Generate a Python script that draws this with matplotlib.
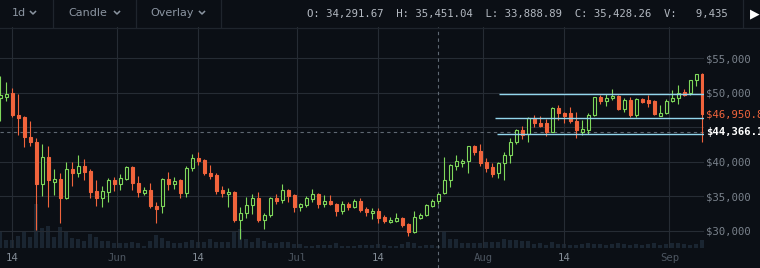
import matplotlib.pyplot as plt
import matplotlib.transforms as mtransforms
import numpy as np
import pandas as pd
from matplotlib.lines import Line2D

BG = "#0b0f15"
GRID = "#262c34"
UP = "#7fd85b"
DOWN = "#f1643c"
VOL = "#1a2531"
LEVEL = "#93d6ec"
W, H = 760, 268

dates = pd.date_range("2021-05-12", periods=118, freq="D")

opens = [
    49300, 49400, 50000, 46800, 46500, 43600, 42900, 36800, 40700, 37100,
    37500, 34800, 39000, 38400, 39400, 38700, 35800, 34800, 35700, 37400,
    36800, 37500, 39300, 37000, 35500, 35900, 33600, 33600, 37500, 36800,
    37400, 35500, 39100, 40600, 40300, 38400, 38100, 35900, 35400, 35700,
    31600, 32600, 33800, 34800, 31600, 32300, 34800, 34500, 35900, 35200,
    33500, 33800, 34600, 35400, 33900, 34300, 33900, 32900, 33900, 33500,
    34300, 33200, 32600, 32900, 32000, 31300, 31400, 31900, 31000, 29900,
    31900, 32300, 33600, 34291.67, 35500, 37400, 39400, 39900, 40100, 42300,
    41600, 40000, 39300, 38400, 39900, 41000, 42900, 44600, 44100, 46400,
    45700, 45700, 44400, 47800, 47100, 47100, 45900, 44300, 44600, 46800,
    49400, 48800, 49300, 49600, 47700, 49000, 46800, 49100, 49000, 48800,
    46700, 47100, 48800, 49300, 50100, 50000, 51900, 52800,
]
highs = [
    52500, 51600, 50700, 49900, 46700, 45900, 43500, 42600, 42300, 39000,
    38400, 40000, 40000, 41000, 40400, 39000, 37400, 36500, 37700, 37800,
    38300, 39400, 39400, 38000, 36400, 37000, 34200, 37700, 38600, 37800,
    37500, 39400, 41200, 41400, 40400, 39600, 38400, 36500, 36200, 35800,
    33500, 34900, 35400, 35700, 32600, 34900, 35400, 36800, 36100, 35400,
    34100, 35100, 36100, 35500, 35200, 35200, 34100, 34300, 34200, 34600,
    34800, 33500, 33300, 33300, 32300, 32000, 32600, 32000, 31200, 32900,
    32600, 33900, 34600, 35451.04, 40700, 39700, 41000, 40400, 42300, 42500,
    42600, 40600, 39900, 40000, 41400, 43500, 44800, 45200, 46500, 46800,
    46700, 46200, 47900, 48300, 47200, 48000, 47200, 46100, 47100, 49400,
    49700, 49900, 50600, 49700, 49300, 49400, 49300, 49300, 49700, 49000,
    48300, 49100, 50400, 51200, 50600, 51900, 52800, 52900,
]
lows = [
    45900, 48800, 46500, 43900, 42200, 42300, 30100, 35100, 33500, 35200,
    31200, 34600, 36500, 37800, 37400, 34800, 33600, 33500, 34200, 35800,
    35900, 37400, 35900, 34900, 35200, 33300, 31200, 32600, 35900, 36100,
    34800, 34900, 38700, 39600, 38100, 37500, 35400, 34900, 33500, 31300,
    28800, 31900, 32500, 31300, 30300, 32000, 33900, 34100, 34200, 32800,
    32900, 33500, 34200, 33300, 33500, 33800, 32200, 32500, 33000, 33300,
    32800, 32200, 31700, 31200, 31200, 31200, 31300, 30600, 29300, 29700,
    31700, 32200, 33500, 33888.89, 35400, 36400, 38800, 39300, 38400, 41000,
    39400, 38600, 37800, 37700, 37400, 39900, 42600, 43300, 42900, 45100,
    45100, 43800, 44300, 46100, 45700, 45700, 43500, 43900, 44100, 46700,
    48400, 48100, 49000, 47500, 47200, 46500, 46500, 48600, 48000, 46800,
    46700, 47000, 48700, 48400, 49600, 49700, 51000, 42900,
]
closes = [
    49700, 49900, 46800, 46400, 43600, 42900, 36800, 40700, 37400, 37500,
    34800, 39000, 38400, 39400, 38600, 35700, 34800, 35800, 37400, 36800,
    37700, 39300, 37000, 35700, 35900, 33600, 33200, 37500, 36800, 37200,
    35500, 39100, 40600, 40100, 38400, 38000, 35800, 35500, 35700, 31600,
    32600, 33800, 34800, 31600, 32300, 34800, 34300, 35900, 35100, 33500,
    33900, 34800, 35400, 33900, 34300, 33900, 32900, 33900, 33500, 34300,
    33000, 32800, 32900, 31900, 31400, 31600, 31900, 30900, 29900, 32000,
    32300, 33800, 34300, 35428.26, 37400, 39600, 40100, 40100, 42300, 41400,
    39900, 39100, 38300, 39900, 41000, 42900, 44600, 43900, 46400, 45700,
    45200, 44300, 47800, 47100, 46700, 45900, 44600, 44800, 46800, 49400,
    48800, 49300, 49600, 47700, 49000, 46800, 49100, 48700, 48600, 47000,
    47100, 48800, 49300, 50000, 49700, 51900, 52800, 46950.8,
]
# volume in thousands
volumes = [
    75, 38, 38, 56, 80, 52, 207, 94, 103, 52,
    99, 80, 47, 42, 33, 66, 52, 33, 33, 24,
    24, 24, 28, 24, 9, 33, 61, 47, 33, 24,
    24, 28, 38, 28, 28, 42, 28, 28, 28, 75,
    89, 42, 28, 47, 33, 24, 24, 28, 28, 19,
    19, 9, 9, 14, 14, 14, 24, 9, 9, 9,
    14, 14, 14, 19, 14, 9, 9, 19, 28, 24,
    9, 14, 14, 9.435, 75, 42, 42, 24, 24, 24,
    24, 28, 28, 28, 42, 38, 38, 33, 33, 19,
    24, 14, 28, 19, 19, 14, 14, 19, 24, 19,
    19, 14, 19, 24, 19, 14, 19, 14, 19, 24,
    14, 19, 24, 24, 19, 14, 19, 38,
]

price_ticks = [30000, 35000, 40000, 45000, 50000, 55000]
price_labels = ["$30,000", "$35,000", "$40,000", "", "$50,000", "$55,000"]

# drawn support / resistance levels and the day they start from
levels = [49850, 46330, 44060]
level_start = [83.1, 82.45, 82.8]

current_price = 46950.8
cursor_price = 44366.1
cursor_idx = 73


def fig_xy(x, y):
    return x / W, 1 - y / H


def draw_toolbar(fig):
    mono = "DejaVu Sans Mono"
    for label, x, cx in [("1d", 12, 33), ("Candle", 68, 117), ("Overlay", 150, 202)]:
        fig.text(*fig_xy(x, 13.5), label, color="#8b95a1", fontsize=8,
                 va="center", ha="left")
        xs = [cx - 2.5, cx, cx + 2.5]
        ys = [11.5, 14, 11.5]
        fig.add_artist(Line2D([v / W for v in xs], [1 - v / H for v in ys],
                              color="#8b95a1", lw=1.1))

    for x in [53, 136, 221, 743]:
        fig.add_artist(Line2D([x / W, x / W], [1, 1 - 27 / H],
                              color="#1f252d", lw=0.9))
    fig.add_artist(Line2D([0, 1], [1 - 27.5 / H] * 2, color="#1f252d", lw=0.9))

    i = cursor_idx
    readout = (f"O: {opens[i]:,.2f}  H: {highs[i]:,.2f}  "
               f"L: {lows[i]:,.2f}  C: {closes[i]:,.2f}  "
               f"V: {volumes[i] * 1000:>7,.0f}")
    fig.text(*fig_xy(307, 13.5), readout, family=mono, fontsize=7.7,
             color="#b3b9c1", va="center", ha="left")
    fig.text(*fig_xy(750, 13.5), "\u25b6", color="white", fontsize=9,
             va="center", ha="left")


def plot_chart():
    fig = plt.figure(figsize=(W / 100, H / 100), dpi=100, facecolor=BG)
    rect = [0, 20 / H, 704 / W, 221 / H]

    x = np.arange(len(dates))
    xlim = (-0.05, 117.28)

    axv = fig.add_axes(rect, zorder=0)
    axv.set_facecolor(BG)
    axv.bar(x, volumes, 0.7, color=VOL)
    axv.set_xlim(*xlim)
    axv.set_ylim(0, 1039)
    axv.axis("off")

    ax = fig.add_axes(rect, zorder=1)
    ax.set_facecolor("none")
    ax.set_xlim(*xlim)
    ax.set_ylim(27536, 59565)
    for s in ax.spines.values():
        s.set_visible(False)

    o = np.array(opens)
    c = np.array(closes)
    up = c >= o
    wick_colors = [UP if u else DOWN for u in up]
    ax.vlines(x, lows, highs, colors=wick_colors, lw=0.8, zorder=3)

    bottom = np.minimum(o, c)
    height = np.maximum(np.abs(c - o), 250)
    ax.bar(x, height, 0.58, bottom,
           facecolor=[BG if u else DOWN for u in up],
           edgecolor=wick_colors, linewidth=0.8, zorder=4)

    # gridlines: month starts sit between candles, 14ths on the candle
    pos, labs, cols = [], [], []
    for i, d in enumerate(dates):
        if d.day == 1:
            pos.append(i - 0.5)
            labs.append(d.strftime("%b"))
            cols.append("#4c5560")
        elif d.day == 14:
            pos.append(i)
            labs.append("14")
            cols.append("#838c96")
    ax.set_xticks(pos, labs, family="DejaVu Sans Mono", fontsize=7.7)
    for t, col in zip(ax.get_xticklabels(), cols):
        t.set_color(col)

    ax.set_yticks(price_ticks, price_labels, family="DejaVu Sans Mono",
                  fontsize=7.7)
    ax.yaxis.tick_right()
    ax.tick_params(axis="y", length=0, pad=1.5, labelcolor="#7a828c")
    ax.tick_params(axis="x", length=0, pad=3.5)
    ax.grid(True, color=GRID, lw=0.8, zorder=1)
    ax.set_axisbelow(True)

    ax.hlines(levels, level_start, xlim[1], color=LEVEL, lw=1, zorder=5)

    dash = (0, (3, 3))
    ax.axhline(cursor_price, color="#5f6872", ls=dash, lw=0.8, zorder=2)
    ax.axvline(cursor_idx, ymin=-20 / 221, ymax=1, color="#5f6872", ls=dash,
               lw=0.8, zorder=2, clip_on=False)

    trans = mtransforms.blended_transform_factory(ax.transAxes, ax.transData)
    ax.text(1 + 2 / 704, current_price, f"${current_price:,.1f}",
            transform=trans, color=DOWN, family="DejaVu Sans Mono",
            fontsize=7.7, va="center", ha="left")
    ax.text(1 + 2 / 704, cursor_price, f"${cursor_price:,.1f}",
            transform=trans, color="white", family="DejaVu Sans Mono",
            fontsize=7.7, fontweight="bold", va="center", ha="left")

    draw_toolbar(fig)

    fig.savefig("out.png", dpi=100, facecolor=BG)
    plt.close(fig)


plot_chart()
